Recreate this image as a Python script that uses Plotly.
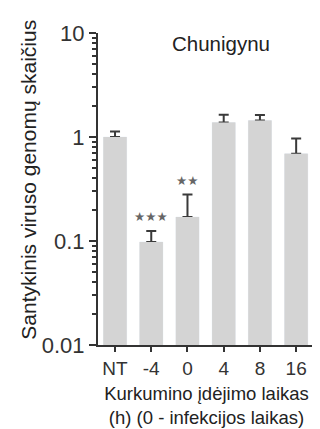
import plotly.graph_objects as go
import numpy as np

categories = ["NT", "-4", "0", "4", "8", "16"]
means = [1.0, 0.098, 0.170, 1.38, 1.44, 0.69]
err_top = [1.13, 0.125, 0.28, 1.64, 1.63, 0.97]
stars = ["", "★★★", "★★", "", "", ""]

err_plus = [t - m for t, m in zip(err_top, means)]
xpos = list(range(len(categories)))

FONT = "Liberation Sans, Arial, sans-serif"
BAR = "#d4d4d4"
DARK = "#333333"

fig = go.Figure()
# error bars (drawn first, then covered by the bars themselves)
fig.add_trace(go.Bar(
    x=xpos, y=means, marker_color=BAR, width=0.64,
    error_y=dict(type="data", symmetric=False, array=err_plus,
                 arrayminus=[0] * len(means), color="#3a3a3a",
                 thickness=2, width=5),
    showlegend=False, hoverinfo="skip"))
fig.add_trace(go.Bar(
    x=xpos, y=means, marker_color=BAR, width=0.64,
    marker_line_width=0, showlegend=False))

for i, s in enumerate(stars):
    if s:
        fig.add_annotation(x=xpos[i], y=np.log10(err_top[i]), text=s,
                           showarrow=False, yanchor="middle", yshift=14,
                           font=dict(family="DejaVu Sans", size=12.5, color="#666"))

fig.add_annotation(x=0.565, xref="paper", y=0.965, yref="paper",
                   text="Chunigynu", showarrow=False, yanchor="middle",
                   font=dict(family=FONT, size=20.5, color="#222"))

# y-axis title as rotated text, placed like the original
fig.add_annotation(x=-0.318, xref="paper", y=0.53, yref="paper",
                   text="Santykinis viruso genomų skaičius", textangle=-90,
                   showarrow=False, xanchor="center", yanchor="middle",
                   font=dict(family=FONT, size=21, color="#222"))

fig.update_layout(
    width=320, height=429,
    margin=dict(l=90, r=13, t=25, b=90),
    paper_bgcolor="white", plot_bgcolor="white",
    barmode="overlay",
    font=dict(family=FONT, color="#222"),
)
fig.update_xaxes(
    range=[-0.47, 5.52], tickvals=xpos, ticktext=categories,
    showline=True, linecolor=DARK, linewidth=2,
    ticks="outside", ticklen=5, tickwidth=2, tickcolor=DARK,
    tickfont=dict(size=19, family=FONT, color="#333"), showgrid=False, zeroline=False,
    title=dict(text="Kurkumino įdėjimo laikas<br>(h) (0 - infekcijos laikas)",
               font=dict(size=18.5, family=FONT, color="#222"), standoff=9),
)
fig.update_yaxes(
    type="log", range=[-2, 1],
    tickvals=[0.01, 0.1, 1, 10], ticktext=["0.01", "0.1", "1", "10"],
    showline=True, linecolor=DARK, linewidth=2,
    ticks="outside", ticklen=7, tickwidth=2, tickcolor=DARK,
    minor=dict(ticks="outside", ticklen=4, tickwidth=1.5, tickcolor=DARK, dtick="D1", showgrid=False),
    tickfont=dict(size=22, family=FONT, color="#333"), showgrid=False, zeroline=False,
)

fig.write_html("out.html")
